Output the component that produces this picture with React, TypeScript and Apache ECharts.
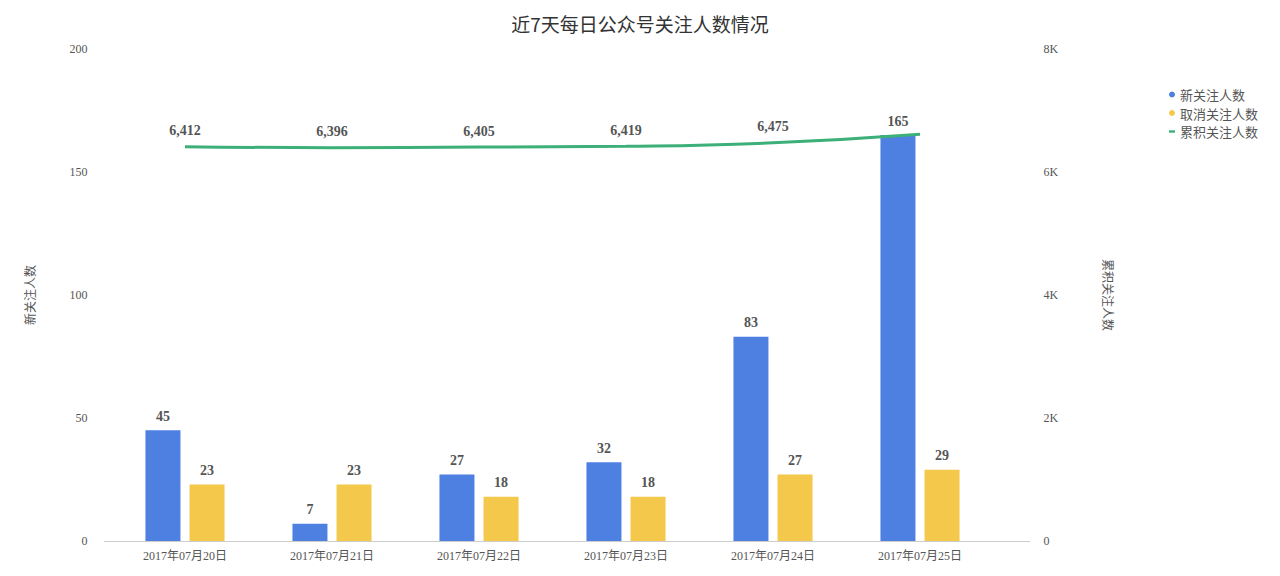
import React, { useEffect, useRef } from "react";
import * as echarts from "echarts";

const categories = ["2017年07月20日", "2017年07月21日", "2017年07月22日", "2017年07月23日", "2017年07月24日", "2017年07月25日"];
const newFollowers = [45, 7, 27, 32, 83, 165];
const unfollowers = [23, 23, 18, 18, 27, 29];
const cumulative = [6412, 6396, 6405, 6419, 6475, 6613];
const leftTicks = { min: 0, max: 200, interval: 50 };
const rightTicks = { min: 0, max: 8000, interval: 2000 };

const SERIF = '"Liberation Serif", "Times New Roman", "Noto Sans CJK SC", serif';
const SANS = '"Noto Sans CJK SC", "Noto Sans", sans-serif';

const BLUE = "#4e80e2";
const YELLOW = "#f4c84b";
const GREEN = "#3daf78";

export default function App() {
  const ref = useRef<HTMLDivElement>(null);
  useEffect(() => {
    if (!ref.current) return;
    const chart = echarts.init(ref.current, undefined, { renderer: "svg" });
    const labelStyle = {
      show: true,
      position: "top",
      distance: 7,
      fontFamily: SERIF,
      fontWeight: "bold",
      fontSize: 14,
      color: "#555",
    };
    chart.setOption({
      animation: false,
      backgroundColor: "#fff",
      title: {
        text: "近7天每日公众号关注人数情况",
        left: "center",
        top: 9,
        textStyle: { fontFamily: SANS, fontSize: 19, fontWeight: "normal", color: "#333" },
      },
      legend: {
        orient: "vertical",
        left: 1164,
        top: 83,
        itemWidth: 6,
        itemHeight: 6,
        itemGap: 5.5,
        textStyle: { fontFamily: SANS, fontSize: 13, color: "#555" },
        data: [
          { name: "新关注人数", icon: "circle" },
          { name: "取消关注人数", icon: "circle" },
          { name: "累积关注人数", icon: "path://M0,0H6V2.4H0Z" },
        ],
      },
      grid: { left: 111.5, right: 286.5, top: 49, bottom: 35 },
      xAxis: {
        type: "category",
        data: categories,
        boundaryGap: true,
        axisLine: { show: false },
        axisTick: { show: false },
        axisLabel: { fontFamily: SERIF, fontSize: 12, color: "#555", margin: 9 },
      },
      yAxis: [
        {
          type: "value",
          ...leftTicks,
          name: "新关注人数",
          nameLocation: "middle",
          nameGap: 76,
          nameRotate: 90,
          nameTextStyle: { fontFamily: SANS, fontSize: 12, color: "#555" },
          axisLine: { show: false },
          axisTick: { show: false },
          splitLine: { show: false },
          axisLabel: { fontFamily: SERIF, fontSize: 12, color: "#555", margin: 24 },
        },
        {
          type: "value",
          ...rightTicks,
          name: "累积关注人数",
          nameLocation: "middle",
          nameGap: 109,
          nameRotate: -90,
          nameTextStyle: { fontFamily: SANS, fontSize: 12, color: "#555" },
          axisLine: { show: false },
          axisTick: { show: false },
          splitLine: { show: false },
          axisLabel: {
            fontFamily: SERIF,
            fontSize: 12,
            color: "#555",
            margin: 50,
            formatter: (v: number) => (v === 0 ? "0" : v / 1000 + "K"),
          },
        },
      ],
      graphic: [
        {
          type: "line",
          shape: { x1: 104, y1: 541.5, x2: 1030, y2: 541.5 },
          style: { stroke: "#ccc", lineWidth: 1 },
          z: 0,
        },
      ],
      series: [
        {
          name: "新关注人数",
          type: "bar",
          data: newFollowers,
          barWidth: 35,
          barGap: "26%",
          itemStyle: { color: BLUE },
          label: labelStyle,
        },
        {
          name: "取消关注人数",
          type: "bar",
          data: unfollowers,
          barWidth: 35,
          barGap: "26%",
          itemStyle: { color: YELLOW },
          label: labelStyle,
        },
        {
          name: "累积关注人数",
          type: "line",
          yAxisIndex: 1,
          smooth: true,
          showSymbol: true,
          symbol: "circle",
          symbolSize: 0.01,
          data: cumulative.map((v, i) => ({
            value: v,
            label: { show: i !== cumulative.length - 1 },
          })),
          lineStyle: { color: GREEN, width: 3 },
          itemStyle: { color: GREEN },
          label: {
            ...labelStyle,
            distance: 9,
            formatter: (p: any) => Number(p.value).toLocaleString("en-US"),
          },
          z: 3,
        },
      ],
    });
    return () => chart.dispose();
  }, []);
  return (
    <div
      ref={ref}
      style={{ position: "fixed", left: 0, top: 0, width: 1280, height: 576 }}
    />
  );
}
